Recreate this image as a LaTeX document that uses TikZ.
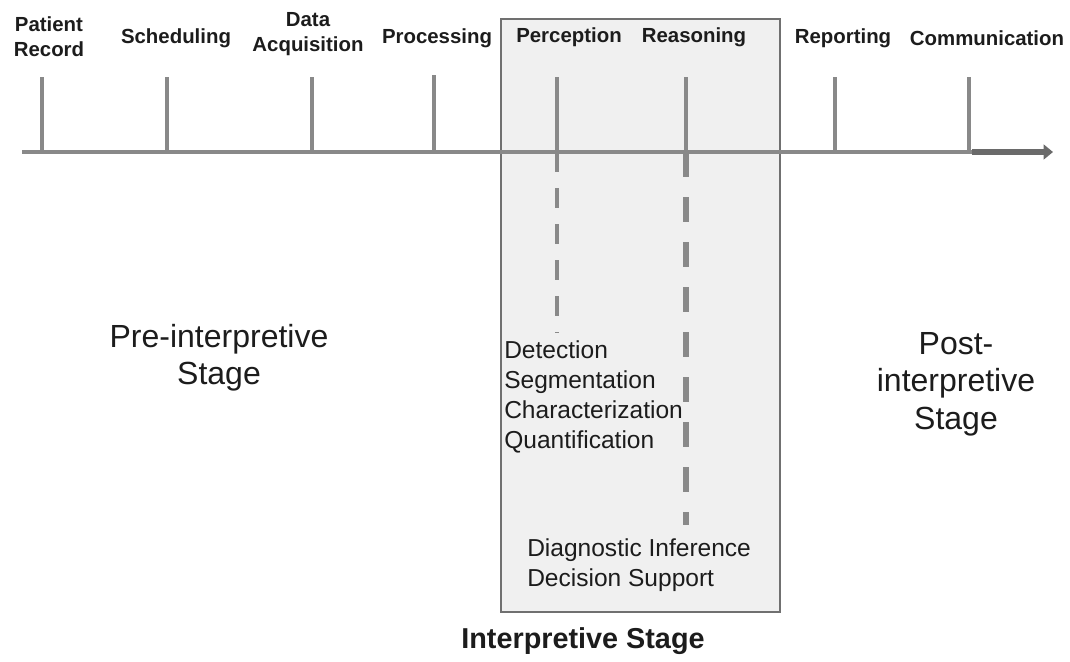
\documentclass[tikz,border=0pt]{standalone}
\usepackage{fontspec}
\setmainfont{Liberation Sans}
\usetikzlibrary{arrows.meta}

\definecolor{axisgray}{HTML}{898989}
\definecolor{headgray}{HTML}{6A6A6A}
\definecolor{boxfill}{HTML}{F0F0F0}
\definecolor{boxedge}{HTML}{707070}
\definecolor{textdark}{HTML}{1C1C1C}

\tikzset{
  steplabel/.style={font=\bfseries\fontsize{15.3}{18.8}\selectfont, align=center, text=textdark, inner sep=0pt},
  stagelabel/.style={font=\fontsize{24}{28}\selectfont, align=center, text=textdark, inner sep=0pt},
  tasklabel/.style={font=\fontsize{18.4}{22.3}\selectfont, align=left, anchor=west, text=textdark, inner sep=0pt},
  steptick/.style={draw=axisgray, line width=3.2pt},
  axisline/.style={draw=axisgray, line width=3.4pt},
}

\begin{document}
\begin{tikzpicture}[x=0.75pt, y=-0.75pt]
    \useasboundingbox (0,0) rectangle (1070,661);

    % interpretive stage box
    \node[draw=boxedge, fill=boxfill, line width=1.6pt, minimum width=209.25pt, minimum height=444.75pt, inner sep=0pt] (interp) at (640.5,315.5) {};

    % time axis
    \coordinate (start) at (22,152);
    \coordinate (head) at (972,152);
    \coordinate (tip) at (1053,152);
    \draw[axisline] (start) -- (head);
    \draw[draw=headgray, line width=5pt, -{Triangle[length=7pt, width=11pt]}] (head) -- (tip);

    % steps
    \coordinate (prtop) at (42,77);   \coordinate (prbase) at (42,152);
    \coordinate (sctop) at (167,77);  \coordinate (scbase) at (167,152);
    \coordinate (datop) at (312,77);  \coordinate (dabase) at (312,152);
    \coordinate (proctop) at (434,75);\coordinate (procbase) at (434,152);
    \coordinate (petop) at (557,77);  \coordinate (pebase) at (557,152);
    \coordinate (retop) at (686,77);  \coordinate (rebase) at (686,152);
    \coordinate (rptop) at (835,77);  \coordinate (rpbase) at (835,152);
    \coordinate (cotop) at (969,77);  \coordinate (cobase) at (969,152);
    \foreach \n in {pr, sc, da, proc, pe, re, rp, co}
        \draw[steptick] (\n top) -- (\n base);

    \node[steplabel] at (49,37)(lpr){Patient\\Record};
    \node[steplabel] at (176,38)(lsc){Scheduling};
    \node[steplabel] at (308,34)(lda){Data\\Acquisition};
    \node[steplabel] at (437,38)(lproc){Processing};
    \node[steplabel] at (569,37)(lpe){Perception};
    \node[steplabel] at (694,37)(lre){Reasoning};
    \node[steplabel] at (843,38)(lrp){Reporting};
    \node[steplabel] at (987,38)(lco){Communication};

    % perception and reasoning
    \coordinate (peend) at (557,333);
    \coordinate (reend) at (686,525);
    \draw[draw=axisgray, line width=3.6pt, dash pattern=on 15pt off 12pt] (pebase) -- (peend);
    \draw[draw=axisgray, line width=4.8pt, dash pattern=on 18.75pt off 15pt] (rebase) -- (reend);

    \node[tasklabel] at (504,397)(taskspe){Detection\\Segmentation\\Characterization\\Quantification};
    \node[tasklabel] at (527,565)(tasksre){Diagnostic Inference\\Decision Support};

    % stages
    \node[stagelabel] at (219,358)(pre){Pre-interpretive\\Stage};
    \node[stagelabel] at (956,384)(post){Post-\\interpretive\\Stage};
    \node[font=\bfseries\fontsize{21.6}{26}\selectfont, text=textdark, inner sep=0pt] at (583,641)(inter){Interpretive Stage};
\end{tikzpicture}
\end{document}
